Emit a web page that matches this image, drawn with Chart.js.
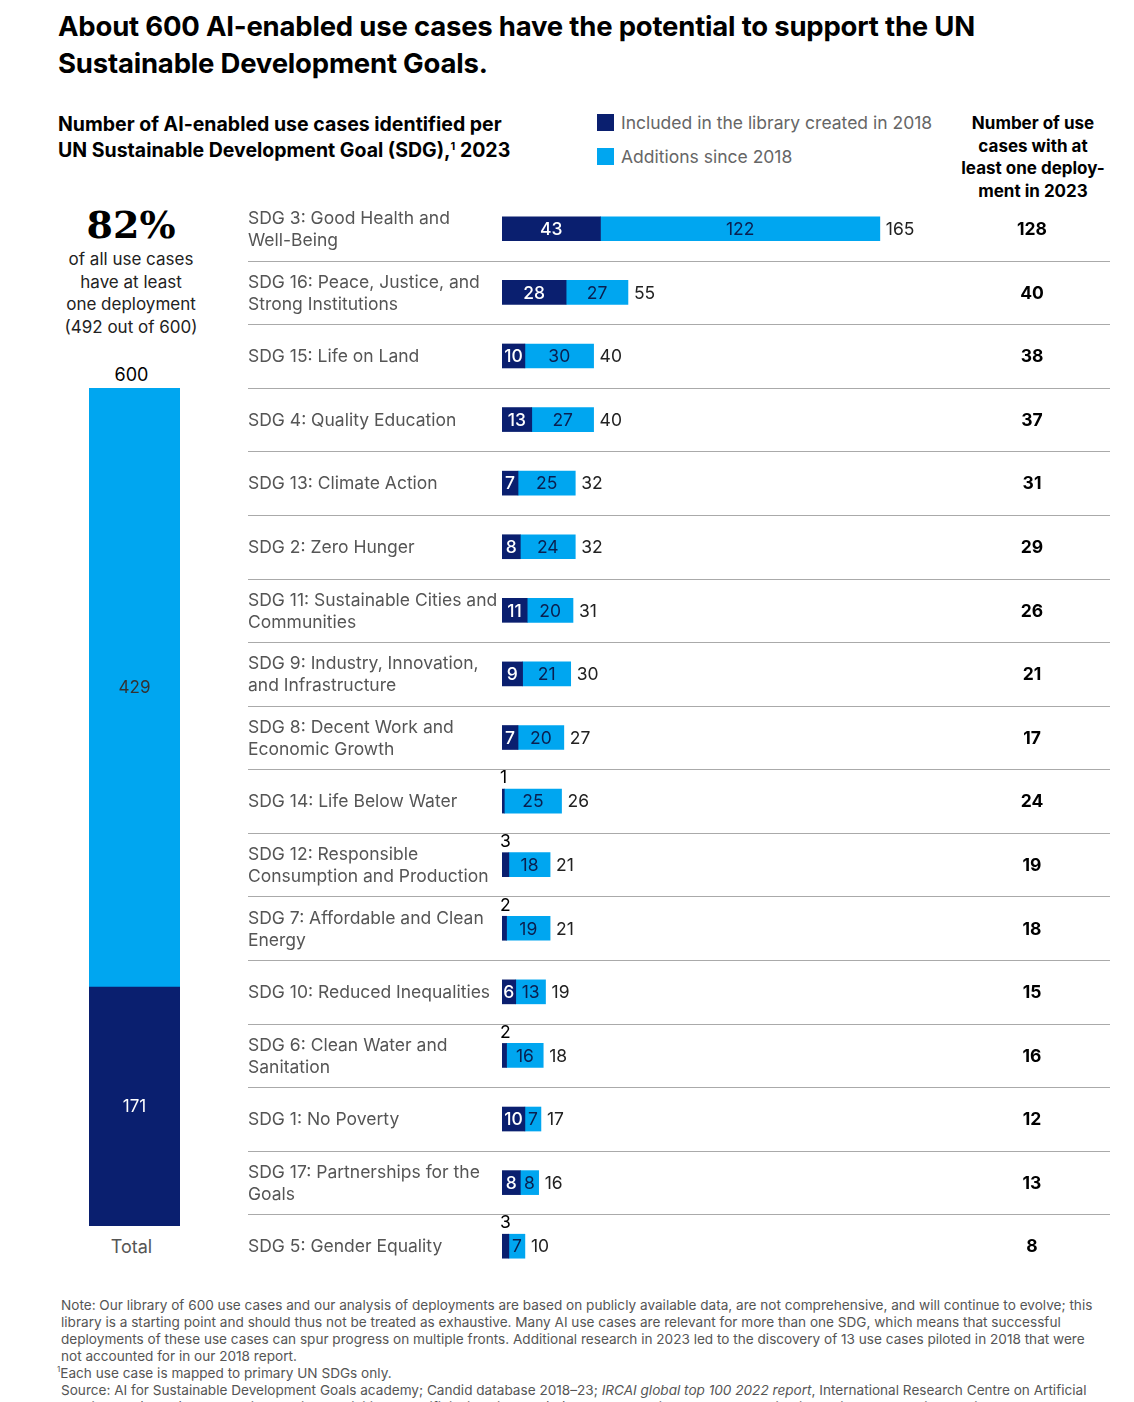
<!DOCTYPE html>
<html><head><meta charset="utf-8">
<script src="https://cdn.jsdelivr.net/npm/chart.js@4"></script>
<style>
body{margin:0;background:#fff;font-family:Inter,"Noto Sans",sans-serif;color:#000;width:1134px;height:1402px;position:relative;overflow:hidden}
.a{position:absolute}
h1{position:absolute;left:58px;top:8px;margin:0;font-size:27.5px;line-height:37px;font-weight:700;letter-spacing:-0.2px}
.sub{left:58px;top:111px;font-size:19.5px;line-height:26px;font-weight:700}
.sub sup{font-size:11px;line-height:0}
.leg{font-size:17.5px;color:#666}
.leg span{display:inline-block;width:17px;height:17px;vertical-align:-2px;margin-right:7px}
.dep{left:950px;top:112px;width:166px;text-align:center;font-size:17px;line-height:22.5px;font-weight:700}
.pct{left:60px;top:202px;width:142px;text-align:center;font-size:17px;line-height:22.5px;color:#222}
.pct b{display:block;font-family:"DejaVu Serif",serif;font-size:38px;line-height:46px;color:#000}
.note{left:61px;top:1297px;width:1040px;font-size:13.6px;line-height:17px;color:#555}
</style></head><body>
<h1>About 600 AI-enabled use cases have the potential to support the UN<br>Sustainable Development Goals.</h1>
<div class="a sub">Number of AI-enabled use cases identified per<br>UN Sustainable Development Goal (SDG),<sup>1</sup> 2023</div>
<div class="a leg" style="left:597px;top:112px"><span style="background:#0a1f6f"></span>Included in the library created in 2018</div>
<div class="a leg" style="left:597px;top:146px"><span style="background:#00a6f0"></span>Additions since 2018</div>
<div class="a dep">Number of use<br>cases with at<br>least one deploy-<br>ment in 2023</div>
<div class="a pct"><b>82%</b>of all use cases<br>have at least<br>one deployment<br>(492 out of 600)</div>
<div class="a" style="left:86px;top:364px;width:91px;text-align:center;font-size:18px">600</div>
<div class="a" style="left:86px;top:1236px;width:91px;text-align:center;font-size:18px;color:#555">Total</div>
<div class="a" style="left:89px;top:388px;width:91px;height:838px"><canvas id="tot"></canvas></div>
<div class="a" style="left:240px;top:197px;width:870px;height:1081px"><canvas id="main"></canvas></div>
<div class="a note">Note: Our library of 600 use cases and our analysis of deployments are based on publicly available data, are not comprehensive, and will continue to evolve; this library is a starting point and should thus not be treated as exhaustive. Many AI use cases are relevant for more than one SDG, which means that successful deployments of these use cases can spur progress on multiple fronts. Additional research in 2023 led to the discovery of 13 use cases piloted in 2018 that were not accounted for in our 2018 report.<br><span style="margin-left:-4px"><sup style="font-size:8px;line-height:0">1</sup>Each use case is mapped to primary UN SDGs only.</span><br>Source: AI for Sustainable Development Goals academy; Candid database 2018–23; <i>IRCAI global top 100 2022 report</i>, International Research Centre on Artificial Intelligence (IRCAI), 2022; United Nations activities on artificial intelligence (AI) 2021, International Telecommunication Union, 2021; United Nations</div>
<script>
const NAVY = '#0a1f6f', BLUE = '#00a6f0';
const sdgLabels = [
  ['SDG 3: Good Health and','Well-Being'],
  ['SDG 16: Peace, Justice, and','Strong Institutions'],
  ['SDG 15: Life on Land'],
  ['SDG 4: Quality Education'],
  ['SDG 13: Climate Action'],
  ['SDG 2: Zero Hunger'],
  ['SDG 11: Sustainable Cities and','Communities'],
  ['SDG 9: Industry, Innovation,','and Infrastructure'],
  ['SDG 8: Decent Work and','Economic Growth'],
  ['SDG 14: Life Below Water'],
  ['SDG 12: Responsible','Consumption and Production'],
  ['SDG 7: Affordable and Clean','Energy'],
  ['SDG 10: Reduced Inequalities'],
  ['SDG 6: Clean Water and','Sanitation'],
  ['SDG 1: No Poverty'],
  ['SDG 17: Partnerships for the','Goals'],
  ['SDG 5: Gender Equality']
];
const included2018 = [43,28,10,13,7,8,11,9,7,1,3,2,6,2,10,8,3];
const additions = [122,27,30,27,25,24,20,21,20,25,18,19,13,16,7,8,7];
const deployed = [128,40,38,37,31,29,26,21,17,24,19,18,15,16,12,13,8];
const totalIncluded = [171];
const totalAdditions = [429];

const font = '"Inter","Noto Sans",sans-serif';

const totalLabels = {
  id:'totalLabels',
  afterDatasetsDraw(c){
    const ctx=c.ctx; ctx.save(); ctx.font='17px '+font; ctx.textAlign='center'; ctx.textBaseline='middle';
    c.data.datasets.forEach((d,i)=>{
      const b=c.getDatasetMeta(i).data[0];
      ctx.fillStyle=i===0?'#fff':'#333';
      ctx.fillText(d.data[0], b.x, (b.y+b.base)/2);
    });
    ctx.restore();
  }
};
new Chart(document.getElementById('tot'),{
  type:'bar',
  data:{labels:['Total'],datasets:[
    {data:totalIncluded,backgroundColor:NAVY,barPercentage:1,categoryPercentage:1},
    {data:totalAdditions,backgroundColor:BLUE,barPercentage:1,categoryPercentage:1}]},
  options:{responsive:true,maintainAspectRatio:false,animation:false,
    plugins:{legend:{display:false},tooltip:{enabled:false}},
    scales:{x:{stacked:true,display:false},y:{stacked:true,display:false,min:0,max:600}}},
  plugins:[totalLabels]
});

const rowDeco = {
  id:'rowDeco',
  afterDatasetsDraw(c){
    const ctx=c.ctx, x=c.scales.x, y=c.scales.y;
    ctx.save();
    const step = y.getPixelForValue(1)-y.getPixelForValue(0);
    sdgLabels.forEach((lab,i)=>{
      const cy=y.getPixelForValue(i);
      ctx.font='17.5px '+font; ctx.fillStyle='#555'; ctx.textAlign='left'; ctx.textBaseline='middle';
      const lh=22;
      lab.forEach((t,j)=>ctx.fillText(t, 8, cy+1+(j-(lab.length-1)/2)*lh));
      if(i<sdgLabels.length-1){
        ctx.strokeStyle='#aaa'; ctx.lineWidth=1;
        ctx.beginPath(); ctx.moveTo(8,Math.round(cy+step/2)+0.5); ctx.lineTo(870,Math.round(cy+step/2)+0.5); ctx.stroke();
      }
      const a=included2018[i], b=additions[i];
      const x0=x.getPixelForValue(0), x1=x.getPixelForValue(a), x2=x.getPixelForValue(a+b);
      ctx.textBaseline='middle';
      ctx.font='500 17.5px '+font;
      if(a>=6){ ctx.fillStyle='#fff'; ctx.textAlign='center'; ctx.fillText(a,(x0+x1)/2,cy+1); }
      else { ctx.fillStyle='#000'; ctx.font='17.5px '+font; ctx.textAlign='left'; ctx.fillText(a,x0-2,cy-23); }
      ctx.font='17.5px '+font;
      ctx.fillStyle='#0a1f4f'; ctx.textAlign='center'; ctx.fillText(b,(x1+x2)/2,cy+1);
      ctx.fillStyle='#222'; ctx.textAlign='left'; ctx.fillText(a+b,x2+6,cy+1);
      ctx.font='bold 17.5px '+font; ctx.fillStyle='#000'; ctx.textAlign='center';
      ctx.fillText(deployed[i],792,cy+1);
    });
    ctx.restore();
  }
};
new Chart(document.getElementById('main'),{
  type:'bar',
  data:{labels:sdgLabels.map(l=>l.join(' ')),datasets:[
    {data:included2018,backgroundColor:NAVY,barThickness:24},
    {data:additions,backgroundColor:BLUE,barThickness:24}]},
  options:{indexAxis:'y',responsive:true,maintainAspectRatio:false,animation:false,
    layout:{padding:{left:262,right:0,top:0,bottom:0}},
    plugins:{legend:{display:false},tooltip:{enabled:false}},
    scales:{x:{stacked:true,display:false,min:0,max:265.5},y:{stacked:true,display:false}}},
  plugins:[rowDeco]
});
</script>
</body></html>
